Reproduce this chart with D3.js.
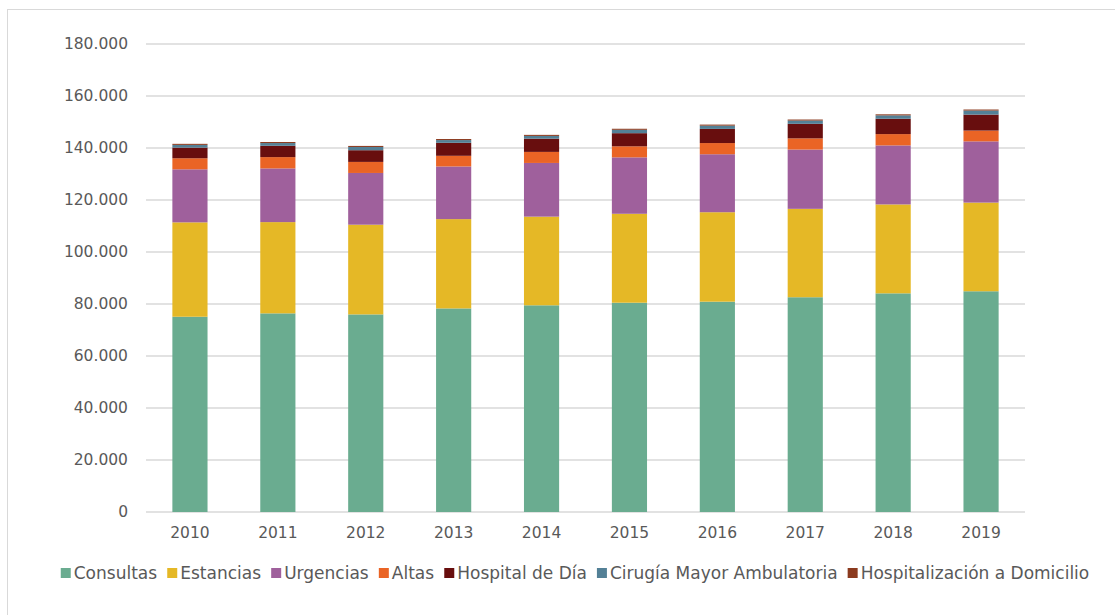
<!DOCTYPE html>
<html>
<head>
<meta charset="utf-8">
<script src="https://cdn.jsdelivr.net/npm/d3@7.9.0/dist/d3.min.js"></script>
<style>
  html, body { margin: 0; padding: 0; background: #fff; }
  svg { display: block; font-family: "DejaVu Sans", sans-serif; }
</style>
</head>
<body>
<svg id="chart" width="1115" height="615"></svg>
<script>
const years = ['2010', '2011', '2012', '2013', '2014', '2015', '2016', '2017', '2018', '2019'];
const seriesNames = ['Consultas', 'Estancias', 'Urgencias', 'Altas', 'Hospital de Día',
    'Cirugía Mayor Ambulatoria', 'Hospitalización a Domicilio'];
const consultas = [75100, 76400, 76000, 78300, 79500, 80500, 80900, 82600, 84100, 84900];
const estancias = [36300, 35100, 34500, 34350, 34100, 34200, 34400, 34000, 34200, 34100];
const urgencias = [20400, 20650, 19900, 20250, 20650, 21700, 22300, 22800, 22700, 23550];
const altas = [4250, 4350, 4250, 4100, 4250, 4250, 4300, 4300, 4350, 4150];
const hospitalDia = [4100, 4350, 4500, 5000, 5100, 5050, 5450, 5600, 5900, 6150];
const cirugia = [1050, 1050, 1250, 1050, 1050, 1300, 1250, 1250, 1300, 1550];
const domicilio = [400, 400, 400, 400, 400, 400, 400, 400, 400, 400];
const yTicks = [0, 20000, 40000, 60000, 80000, 100000, 120000, 140000, 160000, 180000];

const colors = ['#6aac90', '#e5b826', '#9f609c', '#ea6425', '#680e0e', '#538096', '#8b3a1e'];
const allSeries = [consultas, estancias, urgencias, altas, hospitalDia, cirugia, domicilio];

// build rows for d3.stack
const rows = years.map((y, i) => {
    const row = { year: y };
    seriesNames.forEach((name, k) => { row[name] = allSeries[k][i]; });
    return row;
});
const stacked = d3.stack().keys(seriesNames)(rows);

const svg = d3.select('#chart');

// light frame around the chart
svg.append('rect')
    .attr('x', 7.5).attr('y', 9.5)
    .attr('width', 1120).attr('height', 640)
    .attr('fill', 'none')
    .attr('stroke', '#d9d9d9');

const x = d3.scaleBand().domain(years).range([146, 1025]).paddingInner(0.6).paddingOuter(0.3);
const y = d3.scaleLinear().domain([0, 180000]).range([512, 44]);

const fmt = (v) => d3.format(',')(v).replace(/,/g, '.');

// gridlines
svg.append('g')
    .selectAll('line')
    .data(yTicks)
    .join('line')
    .attr('x1', 146).attr('x2', 1025)
    .attr('y1', (d) => y(d)).attr('y2', (d) => y(d))
    .attr('stroke', '#d9d9d9')
    .attr('stroke-width', 1.5);

// y axis labels
const yAxis = svg.append('g')
    .attr('transform', 'translate(128,0)')
    .call(d3.axisLeft(y).tickValues(yTicks).tickFormat(fmt).tickSize(0).tickPadding(0));
yAxis.select('.domain').remove();
yAxis.selectAll('text')
    .attr('fill', '#595959')
    .attr('font-size', 15.5)
    .attr('font-family', '"DejaVu Sans", sans-serif');

// stacked bars
svg.append('g')
    .selectAll('g')
    .data(stacked)
    .join('g')
    .attr('fill', (d, i) => colors[i])
    .selectAll('rect')
    .data((d) => d)
    .join('rect')
    .attr('x', (d) => x(d.data.year))
    .attr('width', x.bandwidth())
    .attr('y', (d) => y(d[1]))
    .attr('height', (d) => y(d[0]) - y(d[1]));

// x axis labels
const xAxis = svg.append('g')
    .attr('transform', 'translate(0,527)')
    .call(d3.axisBottom(x).tickSize(0).tickPadding(0));
xAxis.select('.domain').remove();
xAxis.selectAll('text')
    .attr('fill', '#595959')
    .attr('font-size', 15.5)
    .attr('font-family', '"DejaVu Sans", sans-serif');

// legend, laid out from measured text widths and centred
const legend = svg.append('g');
const items = legend.selectAll('g')
    .data(seriesNames)
    .join('g');
items.append('rect')
    .attr('width', 10).attr('height', 10)
    .attr('y', -5)
    .attr('fill', (d, i) => colors[i]);
items.append('text')
    .attr('x', 13)
    .attr('dy', '0.35em')
    .attr('fill', '#595959')
    .attr('font-size', 17)
    .text((d) => d);
let cx = 0;
items.each(function () {
    const w = this.getBBox().width;
    d3.select(this).attr('transform', `translate(${cx},0)`);
    cx += w + 10;
});
const total = cx - 10;
legend.attr('transform', `translate(${(52 + 1098) / 2 - total / 2},573)`);
</script>
</body>
</html>
